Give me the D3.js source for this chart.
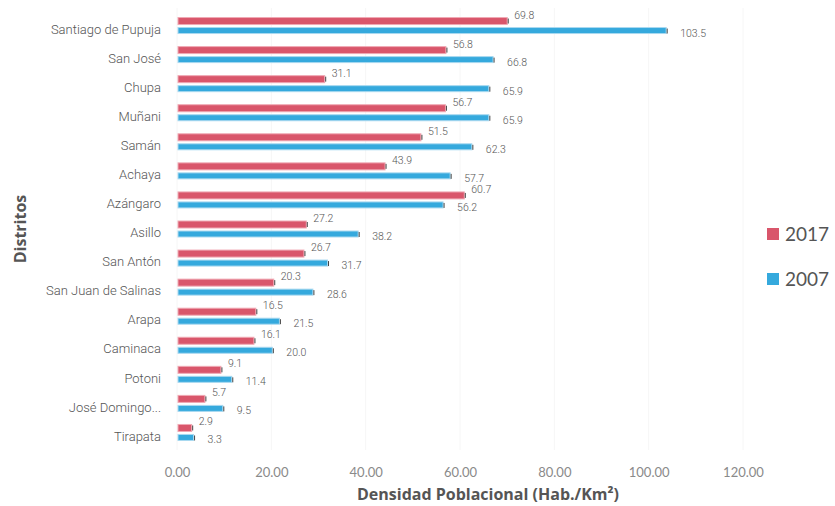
<!DOCTYPE html>
<html><head><meta charset="utf-8">
<script src="https://cdn.jsdelivr.net/npm/d3@7"></script>
<style>body{margin:0;background:#fff}svg{display:block}</style>
</head><body>
<script>
const categories = ["Santiago de Pupuja","San José","Chupa","Muñani","Samán","Achaya","Azángaro","Asillo","San Antón","San Juan de Salinas","Arapa","Caminaca","Potoni","José Domingo...","Tirapata"];
const values2017 = [69.8,56.8,31.1,56.7,51.5,43.9,60.7,27.2,26.7,20.3,16.5,16.1,9.1,5.7,2.9];
const values2007 = [103.5,66.8,65.9,65.9,62.3,57.7,56.2,38.2,31.7,28.6,21.5,20.0,11.4,9.5,3.3];
const xTicks = [0,20,40,60,80,100,120];
const seriesNames = ["2017","2007"];
const colors = {"2017":"#d9566b","2007":"#35a9dd"};
const strokes = {"2017":"#f0a9b4","2007":"#a9d9f0"};

const W=835,H=506;
const svg=d3.select("body").append("svg").attr("width",W).attr("height",H);
const x=d3.scaleLinear().domain([0,120]).range([177,743]);
const y=d3.scaleBand().domain(categories).range([11,447]);

// gridlines
svg.append("g").selectAll("line").data(xTicks).join("line")
  .attr("x1",d=>x(d)).attr("x2",d=>x(d)).attr("y1",8).attr("y2",450)
  .attr("stroke","#f6f6f6").attr("stroke-width",1);

// x axis
const xa=svg.append("g").attr("transform","translate(0,472)")
  .call(d3.axisBottom(x).tickValues(xTicks).tickFormat(d3.format(".2f")).tickSize(0).tickPadding(0));
xa.select(".domain").remove();
xa.selectAll("text").attr("font-family","Lato, 'Open Sans', sans-serif").attr("font-size",13).attr("fill","#8a8a8a").attr("dy","0.35em");

// y axis
const ya=svg.append("g").attr("transform","translate(161,4)")
  .call(d3.axisLeft(y).tickSize(0).tickPadding(0));
ya.select(".domain").remove();
ya.selectAll("text").attr("font-family","Roboto, 'Liberation Sans', sans-serif").attr("font-size",13).attr("font-weight",300).attr("fill","#555");

const data=categories.map((c,i)=>({c,v17:values2017[i],v07:values2007[i]}));
const rows=svg.append("g").selectAll("g").data(data).join("g")
  .attr("transform",d=>`translate(0,${y(d.c)+y.bandwidth()/2})`);

const bh17=7,bh07=6;
rows.append("rect").attr("x",x(0)+1).attr("y",-8).attr("height",bh17)
  .attr("width",d=>x(d.v17)-x(0)).attr("fill",colors["2017"]).attr("stroke",strokes["2017"]).attr("stroke-width",1);
rows.append("rect").attr("x",x(0)+1).attr("y",2).attr("height",bh07)
  .attr("width",d=>x(d.v07)-x(0)).attr("fill",colors["2007"]).attr("stroke",strokes["2007"]).attr("stroke-width",1);
rows.append("line").attr("x1",d=>x(d.v17)+2).attr("x2",d=>x(d.v17)+2).attr("y1",-7).attr("y2",-2).attr("stroke","#444").attr("stroke-width",1);
rows.append("line").attr("x1",d=>x(d.v07)+2).attr("x2",d=>x(d.v07)+2).attr("y1",3).attr("y2",8).attr("stroke","#444").attr("stroke-width",1);
rows.append("text").attr("x",d=>x(d.v17)+8).attr("y",-7).text(d=>d.v17.toFixed(1))
  .attr("font-family","Roboto, 'Liberation Sans', sans-serif").attr("font-weight",300).attr("font-size",10.5).attr("fill","#555");
rows.append("text").attr("x",d=>x(d.v07)+15).attr("y",11).text(d=>d.v07.toFixed(1))
  .attr("font-family","Roboto, 'Liberation Sans', sans-serif").attr("font-weight",300).attr("font-size",10.5).attr("fill","#555");

// axis titles
svg.append("text").attr("transform","translate(26,229) rotate(-90)").attr("text-anchor","middle")
  .attr("font-family","'Open Sans', sans-serif").attr("font-weight","bold").attr("font-size",16).attr("fill","#555").text("Distritos");
svg.append("text").attr("x",488).attr("y",500).attr("text-anchor","middle")
  .attr("font-family","'Open Sans', sans-serif").attr("font-weight","bold").attr("font-size",16).attr("fill","#555").text("Densidad Poblacional (Hab./Km²)");

// legend
const lg=svg.append("g").selectAll("g").data(seriesNames).join("g")
  .attr("transform",(d,i)=>`translate(767,${234+i*45})`);
lg.append("rect").attr("x",0).attr("y",-6).attr("width",12).attr("height",12).attr("fill",d=>colors[d]);
lg.append("text").attr("x",18).attr("y",0).attr("dy","0.35em").text(d=>d)
  .attr("font-family","Lato, 'Open Sans', sans-serif").attr("font-size",19).attr("fill","#555");
</script>
</body></html>
